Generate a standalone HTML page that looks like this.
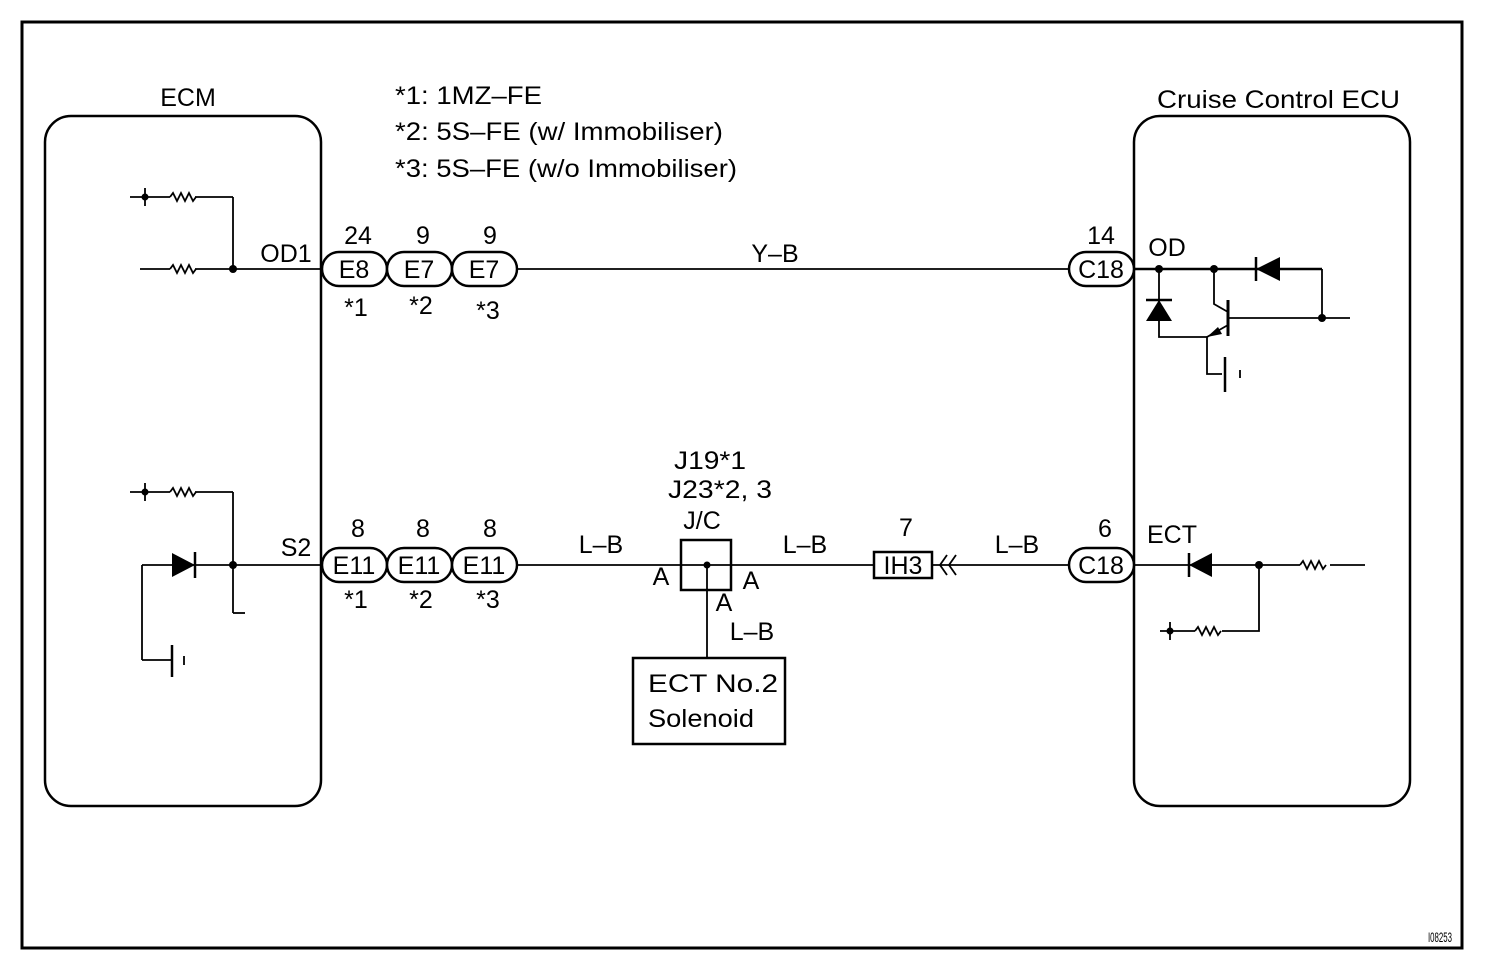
<!DOCTYPE html>
<html><head><style>body{margin:0;background:#fff}svg{display:block}text{font-family:"Liberation Sans",sans-serif;fill:#000}</style></head><body>
<svg width="1504" height="972" viewBox="0 0 1504 972" xmlns="http://www.w3.org/2000/svg">
<defs>
<g id="res"><path d="M0 0 l3 -4 l4 8 l4 -8 l4 8 l4 -8 l4 8 l3 -4" fill="none" stroke="#000" stroke-width="1.8"/></g>
</defs>
<rect x="22" y="22" width="1440" height="926" fill="none" stroke="#000" stroke-width="3"/>
<text x="1428" y="942" font-size="14" lengthAdjust="spacingAndGlyphs" textLength="24">I08253</text>
<g fill="none" stroke="#000" stroke-width="2.5">
<rect x="45" y="116" width="276" height="690" rx="26"/>
<rect x="1134" y="116" width="276" height="690" rx="26"/>
</g>
<g font-size="25">
<text x="188" y="106" text-anchor="middle">ECM</text>
<text x="1157" y="108" textLength="243" lengthAdjust="spacingAndGlyphs">Cruise Control ECU</text>
<text x="395" y="104" textLength="147" lengthAdjust="spacingAndGlyphs">*1: 1MZ–FE</text>
<text x="395" y="140" textLength="328" lengthAdjust="spacingAndGlyphs">*2: 5S–FE (w/ Immobiliser)</text>
<text x="395" y="177" textLength="342" lengthAdjust="spacingAndGlyphs">*3: 5S–FE (w/o Immobiliser)</text>
</g>
<g fill="none" stroke="#000" stroke-width="1.8">
<line x1="130" y1="197" x2="170" y2="197"/><line x1="195" y1="197" x2="233" y2="197"/>
<line x1="145" y1="188" x2="145" y2="206"/>
<line x1="233" y1="197" x2="233" y2="269"/>
<line x1="140" y1="269" x2="170" y2="269"/><line x1="195" y1="269" x2="322" y2="269"/>
<line x1="130" y1="492" x2="170" y2="492"/><line x1="195" y1="492" x2="233" y2="492"/>
<line x1="145" y1="483" x2="145" y2="501"/>
<line x1="233" y1="492" x2="233" y2="613"/><line x1="233" y1="613" x2="245" y2="613"/>
<line x1="142" y1="565" x2="322" y2="565"/>
<line x1="142" y1="565" x2="142" y2="660"/><line x1="142" y1="660" x2="172" y2="660"/>
<line x1="172" y1="645" x2="172" y2="677" stroke-width="2.5"/><line x1="184" y1="656" x2="184" y2="665"/>
<line x1="517" y1="269" x2="1069" y2="269"/>
<line x1="517" y1="565" x2="874" y2="565"/>
<line x1="932" y1="565" x2="1069" y2="565"/>
<line x1="707" y1="565" x2="707" y2="658"/>
<path d="M947 555 L940 565 L947 575 M956 555 L949 565 L956 575"/>
<line x1="1134" y1="269" x2="1322" y2="269" stroke-width="2.5"/>
<line x1="1322" y1="269" x2="1322" y2="318"/>
<line x1="1228" y1="318" x2="1350" y2="318"/>
<line x1="1228" y1="300" x2="1228" y2="336" stroke-width="3"/>
<path d="M1214 269 V304 L1228 312"/>
<path d="M1228 325 L1207 337 V374 H1222"/>
<line x1="1225" y1="357" x2="1225" y2="392" stroke-width="2.5"/><line x1="1240" y1="370" x2="1240" y2="378"/>
<path d="M1159 269 V337 H1207"/>
<line x1="1146" y1="300" x2="1172" y2="300" stroke-width="2.5"/>
<line x1="1256" y1="257" x2="1256" y2="281" stroke-width="2.5"/>
<line x1="1134" y1="565" x2="1300" y2="565"/><line x1="1330" y1="565" x2="1365" y2="565"/>
<line x1="1189" y1="553" x2="1189" y2="577" stroke-width="2.5"/>
<path d="M1259 565 V631 H1222"/><line x1="1160" y1="631" x2="1195" y2="631"/>
<line x1="1170" y1="622" x2="1170" y2="640"/>
</g>
<use href="#res" x="170" y="197"/><use href="#res" x="170" y="269"/><use href="#res" x="170" y="492"/>
<use href="#res" x="1300" y="565"/><use href="#res" x="1195" y="631"/>
<g fill="#000">
<circle cx="145" cy="197" r="3.5"/><circle cx="233" cy="269" r="4"/><circle cx="145" cy="492" r="3.5"/><circle cx="233" cy="565" r="4"/>
<polygon points="172,553 195,565 172,577"/><line x1="195" y1="552" x2="195" y2="578" stroke="#000" stroke-width="2.5"/>
<circle cx="1159" cy="269" r="4"/><circle cx="1214" cy="269" r="4"/><circle cx="1322" cy="318" r="4"/>
<polygon points="1256,269 1280,257 1280,281"/>
<polygon points="1159,300 1146,321 1172,321"/>
<polygon points="1207,337 1218,327 1222,334"/>
<polygon points="1189,565 1212,553 1212,577"/><circle cx="1259" cy="565" r="4"/><circle cx="1170" cy="631" r="3.5"/>
</g>
<g fill="#fff" stroke="#000" stroke-width="2.5">
<rect x="322" y="252" width="65" height="34" rx="17"/><rect x="387" y="252" width="65" height="34" rx="17"/><rect x="452" y="252" width="65" height="34" rx="17"/>
<rect x="322" y="548" width="65" height="34" rx="17"/><rect x="387" y="548" width="65" height="34" rx="17"/><rect x="452" y="548" width="65" height="34" rx="17"/>
<rect x="1069" y="252" width="65" height="34" rx="17"/><rect x="1069" y="548" width="65" height="34" rx="17"/>
<rect x="681" y="540" width="50" height="50" fill="none"/>
<rect x="874" y="552" width="58" height="26"/>
<rect x="633" y="658" width="152" height="86"/>
</g>
<circle cx="707" cy="565" r="3.5" fill="#000"/>
<g font-size="25" text-anchor="middle">
<text x="354" y="278">E8</text><text x="419" y="278">E7</text><text x="484" y="278">E7</text>
<text x="354" y="574">E11</text><text x="419" y="574">E11</text><text x="484" y="574">E11</text>
<text x="1101" y="278">C18</text><text x="1101" y="574">C18</text>
<text x="903" y="574">IH3</text>
<text x="358" y="244">24</text><text x="423" y="244">9</text><text x="490" y="244">9</text>
<text x="356" y="316">*1</text><text x="421" y="314">*2</text><text x="488" y="319">*3</text>
<text x="358" y="537">8</text><text x="423" y="537">8</text><text x="490" y="537">8</text>
<text x="356" y="608">*1</text><text x="421" y="608">*2</text><text x="488" y="608">*3</text>
<text x="1101" y="244">14</text><text x="1105" y="537">6</text><text x="906" y="536">7</text>
<text x="286" y="262">OD1</text><text x="296" y="556">S2</text>
<text x="1167" y="256">OD</text><text x="1172" y="543">ECT</text>
<text x="775" y="262">Y–B</text>
<text x="601" y="553">L–B</text><text x="805" y="553">L–B</text><text x="1017" y="553">L–B</text>
<text x="710" y="469" textLength="72" lengthAdjust="spacingAndGlyphs">J19*1</text><text x="720" y="498" textLength="104" lengthAdjust="spacingAndGlyphs">J23*2, 3</text><text x="702" y="529">J/C</text>
<text x="661" y="585">A</text><text x="751" y="589">A</text><text x="724" y="611">A</text>
<text x="752" y="640">L–B</text>
<text x="713" y="692" textLength="130" lengthAdjust="spacingAndGlyphs">ECT No.2</text><text x="701" y="727" textLength="106" lengthAdjust="spacingAndGlyphs">Solenoid</text>
</g>
</svg>
</body></html>
